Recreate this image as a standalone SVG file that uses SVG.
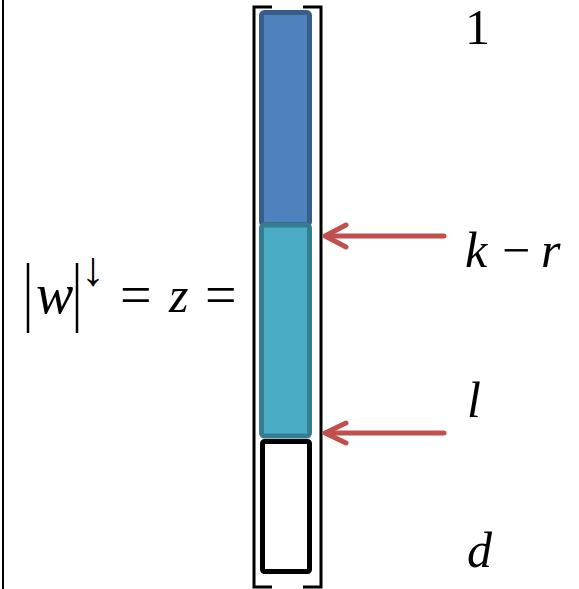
<svg xmlns="http://www.w3.org/2000/svg" width="579" height="589" viewBox="0 0 579 589">
<rect x="0" y="0" width="579" height="589" fill="#fff"/>
<line x1="3" y1="0" x2="3" y2="589" stroke="#000" stroke-width="2"/>
<g id="lhs" fill="#000">
<line x1="28" y1="263" x2="28" y2="333" stroke="#000" stroke-width="2.5"/>
<text font-family="Liberation Serif" font-style="italic" x="36" y="313" font-size="56">w</text>
<line x1="77" y1="263" x2="77" y2="333" stroke="#000" stroke-width="2.5"/>
<text font-family="Liberation Serif" x="81" y="285" font-size="48">↓</text>
<text font-family="Liberation Serif" x="120" y="314" font-size="56">=</text>
<text font-family="Liberation Serif" font-style="italic" x="169" y="312" font-size="50">z</text>
<text font-family="Liberation Serif" x="205" y="314" font-size="56">=</text>
</g>
<g id="vector" fill="none" stroke="#000" stroke-width="3">
<path d="M272,7 H254 V587 H272"/>
<path d="M303,7 H321 V587 H303"/>
<rect x="261.5" y="12.5" width="48" height="212" rx="3" fill="#4f81bd" stroke="#385d8a" stroke-width="5"/>
<rect x="261.5" y="225" width="48" height="211" rx="3" fill="#4bacc6" stroke="#357d91" stroke-width="5"/>
<rect x="262.5" y="441.5" width="47" height="130" rx="2" fill="#fff" stroke="#000" stroke-width="5"/>
</g>
<g id="connectors" fill="none" stroke="#c0504d" stroke-width="5" stroke-linecap="round" stroke-linejoin="round">
<line x1="444" y1="236" x2="327" y2="236"/>
<polyline points="346,225 325,236 346,247"/>
<line x1="444" y1="433" x2="327" y2="433"/>
<polyline points="346,423 325,433 346,443"/>
</g>
<g id="labels" fill="#000">
<text font-family="Liberation Serif" font-size="50" x="465" y="44">1</text>
<text font-family="Liberation Serif" font-size="50" font-style="italic" x="465" y="267">k</text>
<text font-family="Liberation Serif" font-size="50" x="502" y="267">−</text>
<text font-family="Liberation Serif" font-size="50" font-style="italic" x="541" y="267">r</text>
<text font-family="Liberation Serif" font-size="50" font-style="italic" x="467" y="417">l</text>
<text font-family="Liberation Serif" font-size="50" font-style="italic" x="467" y="567">d</text>
</g>
</svg>
